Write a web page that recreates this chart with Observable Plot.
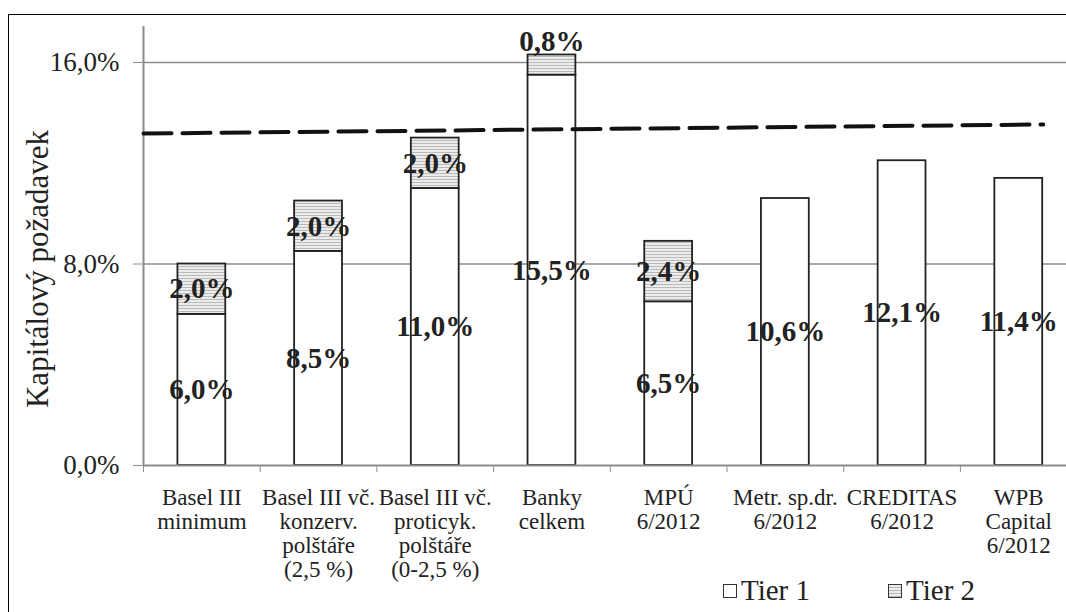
<!DOCTYPE html>
<html>
<head>
<meta charset="utf-8">
<script src="https://cdn.jsdelivr.net/npm/d3@7"></script>
<script src="https://cdn.jsdelivr.net/npm/@observablehq/plot@0.6"></script>
<style>
  html, body { margin: 0; padding: 0; background: #fff; overflow: hidden; }
  #wrap { position: relative; width: 1066px; height: 612px; overflow: hidden; }
  #frame { position: absolute; left: 8px; top: 14px; width: 1100px; height: 700px; border: 1.5px solid #000; box-sizing: border-box; }
  #legend { position: absolute; top: 574px; left: 723px; font-family: "Liberation Serif", serif; font-size: 29px; color: #222; display: flex; align-items: center; }
  .item { display: flex; align-items: center; }
  .sw { width: 14px; height: 14px; border: 1px solid #333; box-sizing: border-box; margin-right: 4px; }
</style>
</head>
<body>
<div id="wrap">
  <div id="chart"></div>
  <div id="frame"></div>
  <div id="legend"></div>
</div>
<script>
const categories = [
  "Basel III\nminimum",
  "Basel III vč.\nkonzerv.\npolštáře\n(2,5 %)",
  "Basel III vč.\nproticyk.\npolštáře\n(0-2,5 %)",
  "Banky\ncelkem",
  "MPÚ\n6/2012",
  "Metr. sp.dr.\n6/2012",
  "CREDITAS\n6/2012",
  "WPB\nCapital\n6/2012"
];
const tier1 = [6.0, 8.5, 11.0, 15.5, 6.5, 10.6, 12.1, 11.4];
const tier2 = [2.0, 2.0, 2.0, 0.8, 2.4, 0, 0, 0];
const seriesNames = ["Tier 1", "Tier 2"];
const yTicks = [0, 8, 16];
// dashed reference line: start/end (category position, %)
const refLineX = [0, 7.71];
const refLineY = [13.18, 13.54];
const yTitle = "Kapitálový požadavek";

const fmt = v => v.toFixed(1).replace(".", ",") + "%";
const rows = categories.map((c, i) => ({i, c, t1: tier1[i], t2: tier2[i], total: tier1[i] + tier2[i]}));
const refLine = refLineX.map((x, k) => ({x, y: refLineY[k]}));
const half = 0.205;
const gray = "#8c8c8c";
const serif = "'Liberation Serif', 'Times New Roman', serif";

const plot = Plot.plot({
  width: 1066,
  height: 612,
  marginLeft: 143,
  marginRight: 0,
  marginTop: 26,
  marginBottom: 147,
  style: {fontFamily: serif, background: "transparent", overflow: "visible"},
  x: {domain: [0, 7.909], axis: null},
  y: {domain: [0, 17.43], axis: null},
  marks: [
    Plot.gridY(yTicks.filter(d => d > 0), {stroke: gray, strokeOpacity: 1, strokeWidth: 1.5}),
    Plot.axisY(yTicks, {tickFormat: fmt, tickSize: 10, tickPadding: 14, stroke: gray, fontSize: 27, fill: "#222", label: null}),
    Plot.axisX(d3.range(0, 8), {tickFormat: () => "", tickSize: 7, stroke: gray, label: null}),
    Plot.ruleX([0], {stroke: gray, strokeWidth: 2}),
    Plot.rectY(rows, {x1: d => d.i + 0.5 - half, x2: d => d.i + 0.5 + half, y1: 0, y2: "t1", fill: "white", stroke: "#222", strokeWidth: 1.8}),
    Plot.rectY(rows.filter(d => d.t2 > 0), {x1: d => d.i + 0.5 - half, x2: d => d.i + 0.5 + half, y1: "t1", y2: "total", fill: "url(#hatch)", stroke: "#222", strokeWidth: 1.8}),
    Plot.ruleY([0], {stroke: gray, strokeWidth: 2}),
    Plot.line(refLine, {x: "x", y: "y", stroke: "#111", strokeWidth: 4, strokeDasharray: "28,11"}),
    Plot.text(rows, {x: d => d.i + 0.5, y: d => d.t1 / 2, text: d => fmt(d.t1), fontWeight: "bold", fontSize: 29, fill: "#222"}),
    Plot.text(rows.filter(d => d.t2 >= 1), {x: d => d.i + 0.5, y: d => d.t1 + d.t2 / 2, text: d => fmt(d.t2), fontWeight: "bold", fontSize: 29, fill: "#222"}),
    Plot.text(rows.filter(d => d.t2 > 0 && d.t2 < 1), {x: d => d.i + 0.5, y: "total", text: d => fmt(d.t2), fontWeight: "bold", fontSize: 29, fill: "#222", dy: -13}),
    Plot.text(rows, {x: d => d.i + 0.5, y: 0, text: "c", lineAnchor: "top", dy: 22, fontSize: 23, lineHeight: 1.05, fill: "#222"}),
    Plot.text([yTitle], {frameAnchor: "left", textAnchor: "middle", rotate: -90, dx: -105, dy: 23, fontSize: 31, fill: "#222"})
  ]
});

const defs = d3.select(plot).insert("defs", ":first-child");
const pat = defs.append("pattern").attr("id", "hatch").attr("patternUnits", "userSpaceOnUse").attr("width", 6).attr("height", 3);
pat.append("rect").attr("width", 6).attr("height", 3).attr("fill", "#ececec");
pat.append("rect").attr("y", 2).attr("width", 6).attr("height", 1).attr("fill", "#b9b9b9");

document.getElementById("chart").appendChild(plot);

const legend = d3.select("#legend");
seriesNames.forEach((name, k) => {
  const it = legend.append("div").attr("class", "item").style("margin-right", k === 0 ? "78px" : "0");
  const sw = it.append("div").attr("class", "sw");
  if (k === 0) sw.style("background", "#fff");
  else sw.style("background", "repeating-linear-gradient(180deg, #ececec 0 2px, #b9b9b9 2px 3px)");
  it.append("span").text(name);
});
</script>
</body>
</html>
